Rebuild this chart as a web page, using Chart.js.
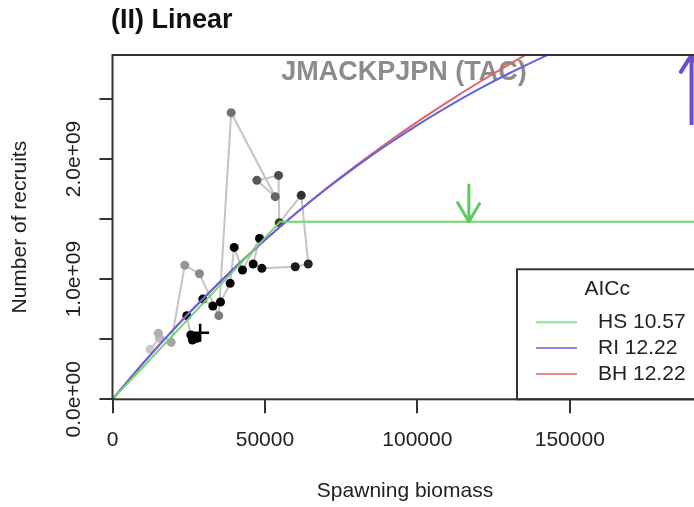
<!DOCTYPE html>
<html>
<head>
<meta charset="utf-8">
<script src="https://cdn.jsdelivr.net/npm/chart.js@4.4.1/dist/chart.umd.min.js"></script>
<style>
	html, body { margin: 0; padding: 0; background: #fff; overflow: hidden; }
	canvas { display: block; }
</style>
</head>
<body>
<canvas id="srChart" width="709" height="507"></canvas>
<script>
// observed stock-recruitment pairs, in year order
const ssb = [12320, 15380, 15050, 19220, 23710, 28520, 34870, 38930, 53380, 47360,
	54470, 54690, 61920, 64220, 59950, 49000, 46150, 48230, 42650, 39910,
	38600, 35420, 32910, 29620, 24370, 25680, 26220, 27650, 28740];
const recruits = [0.416e9, 0.507e9, 0.549e9, 0.474e9, 1.115e9, 1.045e9, 0.696e9, 2.385e9, 1.686e9, 1.822e9,
	1.863e9, 1.469e9, 1.697e9, 1.126e9, 1.103e9, 1.090e9, 1.126e9, 1.339e9, 1.076e9, 1.264e9,
	0.965e9, 0.810e9, 0.776e9, 0.834e9, 0.696e9, 0.535e9, 0.493e9, 0.507e9, 0.554e9];

// fitted curves
const fitSsb = [0, 10000, 20000, 30000, 40000, 50000, 60000, 70000, 80000, 90000,
	100000, 110000, 120000, 130000, 140000, 150000];
const riRec = [0, 2.989e8, 5.801e8, 8.445e8, 1.0927e9, 1.3255e9, 1.5436e9, 1.7476e9, 1.9383e9, 2.1161e9,
	2.2817e9, 2.4357e9, 2.5786e9, 2.7110e9, 2.8332e9, 2.9459e9];
const bhRec = [0, 3.008e8, 5.821e8, 8.456e8, 1.0929e9, 1.3256e9, 1.5449e9, 1.7518e9, 1.9475e9, 2.1329e9,
	2.3086e9, 2.4755e9, 2.6342e9, 2.7853e9, 2.9292e9, 3.0667e9];
const hsSsb = [0, 55000, 200000];
const hsRec = [0, 1.478e9, 1.478e9];

const fitLabels = ['HS 10.57', 'RI 12.22', 'BH 12.22'];

// arrows: [ssb, tail, tip]
const hsArrow = [116900, 1.783e9, 1.478e9];
const riArrow = [189950, 2.282e9, 2.865e9];

const xMax = 191900;
const yMax = 2.865e9;
const xTicks = [0, 50000, 100000, 150000];
const yTicks = [0, 0.5e9, 1e9, 1.5e9, 2e9, 2.5e9];
const yLabelled = [0, 1e9, 2e9];

const FONT = '"Liberation Sans", Arial, Helvetica, sans-serif';
const GREEN = 'rgb(112, 214, 112)';
const BLUE = 'rgb(104, 96, 228)';
const RED = 'rgb(226, 100, 100)';

Chart.defaults.font.family = FONT;
Chart.defaults.color = '#222';

const toXY = (xs, ys) => xs.map((x, i) => ({ x, y: ys[i] }));

function arrowPath([x, tail, tip], dx, dy) {
	const back = tip > tail ? tip - dy : tip + dy;
	return [{ x, y: tail }, { x, y: tip }, { x: x - dx, y: back }, { x, y: tip }, { x: x + dx, y: back }];
}

function sci(v) {
	const [m, e] = v.toExponential(1).split('e');
	return m + 'e' + e[0] + e.slice(1).padStart(2, '0');
}

const shade = (i) => {
	const g = Math.round(200 * Math.max(0, 1 - i / 16));
	return `rgb(${g}, ${g}, ${g})`;
};
const lastIdx = ssb.length - 1;

const frame = {
	id: 'frame',
	beforeDatasetsDraw(chart) {
		const { ctx, chartArea: a } = chart;
		ctx.save();
		ctx.fillStyle = '#8c8c8c';
		ctx.font = 'bold 27px ' + FONT;
		ctx.textAlign = 'center';
		ctx.textBaseline = 'middle';
		ctx.fillText('JMACKPJPN (TAC)', (a.left + a.right) / 2 - 1, a.top + 18);
		ctx.restore();
	},
	afterDatasetsDraw(chart) {
		const { ctx, chartArea: a } = chart;
		ctx.save();

		// legend
		const left = a.right - 180.5;
		const top = a.bottom - 130;
		ctx.fillStyle = '#fff';
		ctx.fillRect(left, top, a.right - left, a.bottom - top);
		ctx.strokeStyle = '#333';
		ctx.lineWidth = 2;
		ctx.strokeRect(left, top, a.right - left, a.bottom - top);

		ctx.fillStyle = '#222';
		ctx.font = '21px ' + FONT;
		ctx.textBaseline = 'middle';
		ctx.textAlign = 'center';
		ctx.fillText('AICc', (left + a.right) / 2, top + 20);
		ctx.textAlign = 'left';
		const fits = chart.data.datasets.filter(d => fitLabels.includes(d.label));
		fits.forEach((d, i) => {
			const y = top + 53 + i * 25.8;
			ctx.globalAlpha = 0.75;
			ctx.strokeStyle = d.borderColor;
			ctx.lineWidth = 2;
			ctx.beginPath();
			ctx.moveTo(left + 19, y);
			ctx.lineTo(left + 60, y);
			ctx.stroke();
			ctx.globalAlpha = 1;
			ctx.fillText(d.label, left + 81, y);
		});

		// plot box
		ctx.strokeStyle = '#333';
		ctx.lineWidth = 2;
		ctx.strokeRect(a.left, a.top, a.right - a.left, a.bottom - a.top);
		ctx.restore();
	},
	afterDraw(chart) {
		const { ctx } = chart;
		ctx.save();
		ctx.fillStyle = '#111';
		ctx.font = 'bold 27px ' + FONT;
		ctx.textAlign = 'left';
		ctx.textBaseline = 'middle';
		ctx.fillText('(II) Linear', 111, 21);
		ctx.restore();
	}
};

new Chart(document.getElementById('srChart'), {
	type: 'scatter',
	data: {
		datasets: [
			{
				label: 'hs-arrow',
				data: arrowPath(hsArrow, 3700, 0.16e9),
				showLine: true,
				borderColor: 'rgb(92, 205, 92)',
				borderWidth: 3,
				borderJoinStyle: 'round',
				pointRadius: 0
			},
			{
				label: 'ri-arrow',
				data: arrowPath(riArrow, 3500, 0.14e9),
				showLine: true,
				borderColor: 'rgb(108, 78, 205)',
				borderWidth: 4,
				borderJoinStyle: 'round',
				pointRadius: 0
			},
			{
				label: fitLabels[0],
				data: toXY(hsSsb, hsRec),
				showLine: true,
				borderColor: GREEN,
				borderWidth: 2,
				pointRadius: 0
			},
			{
				label: fitLabels[1],
				data: toXY(fitSsb, riRec),
				showLine: true,
				borderColor: BLUE,
				borderWidth: 2,
				cubicInterpolationMode: 'monotone',
				pointRadius: 0
			},
			{
				label: fitLabels[2],
				data: toXY(fitSsb, bhRec),
				showLine: true,
				borderColor: RED,
				borderWidth: 2,
				cubicInterpolationMode: 'monotone',
				pointRadius: 0
			},
			{
				label: 'observed',
				data: toXY(ssb, recruits),
				showLine: true,
				borderColor: 'rgb(196, 196, 196)',
				borderWidth: 2,
				pointStyle: (c) => c.dataIndex === lastIdx ? 'cross' : 'circle',
				pointRadius: (c) => c.dataIndex === lastIdx ? 9 : 4.5,
				pointBackgroundColor: (c) => shade(c.dataIndex),
				pointBorderColor: (c) => c.dataIndex === lastIdx ? '#000' : shade(c.dataIndex),
				pointBorderWidth: (c) => c.dataIndex === lastIdx ? 2.5 : 0
			}
		]
	},
	options: {
		responsive: false,
		animation: false,
		devicePixelRatio: 1,
		events: [],
		layout: { padding: { top: 55, right: 4, bottom: 0, left: 0 } },
		plugins: {
			legend: { display: false },
			tooltip: { enabled: false }
		},
		scales: {
			x: {
				type: 'linear',
				min: 0,
				max: xMax,
				afterBuildTicks: (scale) => { scale.ticks = xTicks.map(value => ({ value })); },
				afterFit: (scale) => { scale.height = 107.7; },
				border: { display: false },
				grid: { drawOnChartArea: false, tickLength: 14, color: '#333', lineWidth: 2 },
				ticks: {
					autoSkip: false,
					maxRotation: 0,
					padding: 14,
					font: { size: 21 },
					color: '#222',
					callback: (v) => String(v)
				},
				title: {
					display: true,
					text: 'Spawning biomass',
					font: { size: 21 },
					color: '#222',
					padding: { top: 0, bottom: 3 }
				}
			},
			y: {
				type: 'linear',
				min: 0,
				max: yMax,
				afterBuildTicks: (scale) => { scale.ticks = yTicks.map(value => ({ value })); },
				afterFit: (scale) => { scale.width = 112.5; },
				border: { display: false },
				grid: { drawOnChartArea: false, tickLength: 13, color: '#333', lineWidth: 2 },
				ticks: {
					autoSkip: false,
					minRotation: 90,
					maxRotation: 90,
					crossAlign: 'center',
					padding: -13,
					font: { size: 21 },
					color: '#222',
					callback: (v) => yLabelled.includes(v) ? sci(v) : ''
				},
				title: {
					display: true,
					text: 'Number of recruits',
					font: { size: 21 },
					color: '#222',
					padding: { top: 8, bottom: 0 }
				}
			}
		}
	},
	plugins: [frame]
});
</script>
</body>
</html>
